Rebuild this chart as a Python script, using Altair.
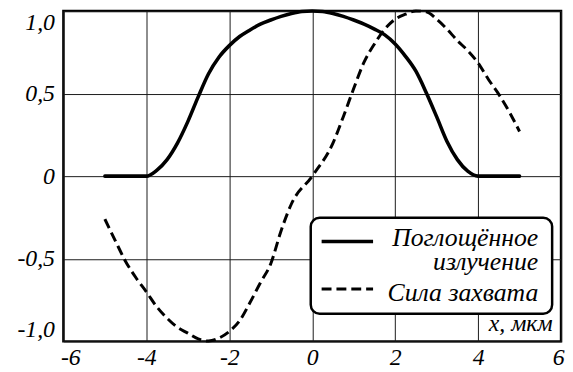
import altair as alt
import pandas as pd

# ---- data ----
x_ticks = [-6, -4, -2, 0, 2, 4, 6]
y_ticks = [-1.0, -0.5, 0.0, 0.5, 1.0]

absorbed_x = [-5, -4.5, -4, -3.75, -3.5, -3.25, -3, -2.75, -2.5, -2.25, -2, -1.75,
              -1.5, -1.25, -1, -0.75, -0.5, -0.25, 0, 0.25, 0.5, 0.75, 1, 1.25,
              1.5, 1.75, 2, 2.25, 2.5, 2.75, 3, 3.25, 3.5, 3.75, 4, 4.5, 5]
absorbed_y = [0, 0, 0, 0.035, 0.10, 0.20, 0.33, 0.48, 0.62, 0.72, 0.79, 0.845,
              0.885, 0.92, 0.945, 0.967, 0.985, 0.997, 1.0, 0.997, 0.985, 0.967, 0.945, 0.92,
              0.89, 0.855, 0.80, 0.725, 0.635, 0.505, 0.36, 0.21, 0.10, 0.03, 0, 0, 0]

force_x = [-5, -4.75, -4.5, -4.25, -4, -3.75, -3.5, -3.25, -3, -2.75, -2.5, -2.25,
           -2, -1.75, -1.5, -1.25, -1, -0.75, -0.5, 0, 0.5, 0.75, 1, 1.25,
           1.5, 1.75, 2, 2.25, 2.5, 2.75, 3, 3.25, 3.5, 3.75, 4, 4.25, 4.5, 4.75, 5]
force_y = [-0.26, -0.39, -0.516, -0.615, -0.70, -0.79, -0.86, -0.915, -0.95, -0.985, -0.998, -0.98,
           -0.94, -0.875, -0.765, -0.645, -0.53, -0.33, -0.167, 0.0, 0.20, 0.36, 0.53, 0.69,
           0.80, 0.89, 0.95, 0.98, 1.0, 0.995, 0.95, 0.89, 0.82, 0.76, 0.685, 0.585, 0.495, 0.39, 0.27]

legend_line1 = "Поглощённое"
legend_line2 = "излучение"
legend_force = "Сила захвата"
x_title = "x, мкм"

FONT = "Liberation Serif"
FS = 24
LEG_FS = 26

absorbed = pd.DataFrame({"x": absorbed_x, "y": absorbed_y})
force = pd.DataFrame({"x": force_x, "y": force_y})
one = pd.DataFrame({"k": [0]})

xscale = alt.Scale(domain=[-6, 6], nice=False, zero=False)
yscale = alt.Scale(domain=[-1, 1], nice=False, zero=False)

common = dict(
    ticks=False, domain=False, grid=True, gridColor="#1a1a1a", gridWidth=1, gridOpacity=1,
    labelFont=FONT, labelFontStyle="italic", labelFontSize=FS, labelColor="black",
    labelFontWeight="normal",
)

xaxis = alt.Axis(
    values=x_ticks, labelExpr="'' + datum.value",
    labelFlush=True, labelFlushOffset=3, labelPadding=23, labelBaseline="alphabetic",
    title=x_title, titleX=494, titleY=-11, titleAlign="right",
    titleBaseline="alphabetic", titleFont=FONT, titleFontStyle="italic",
    titleFontWeight="normal", titleFontSize=FS, titleColor="black",
    **common,
)
yaxis = alt.Axis(
    values=y_ticks, labelFlush=True, labelPadding=9,
    labelExpr="datum.value == 0 ? '0' : (datum.value < 0 ? '-' : '') + replace(format(abs(datum.value), '.1f'), '.', ',')",
    title=None,
    **common,
)

absorbed_line = alt.Chart(absorbed).mark_line(
    color="black", strokeWidth=3.6, interpolate="monotone", strokeCap="round"
).encode(
    x=alt.X("x:Q", scale=xscale, axis=xaxis),
    y=alt.Y("y:Q", scale=yscale, axis=yaxis),
)

force_line = alt.Chart(force).mark_line(
    color="black", strokeWidth=3, interpolate="monotone", strokeDash=[10, 5]
).encode(
    x=alt.X("x:Q", scale=xscale),
    y=alt.Y("y:Q", scale=yscale),
)

legend_box = alt.Chart(one).mark_rect(
    fill="white", stroke="black", strokeWidth=2.5, cornerRadius=9
).encode(
    x=alt.value(250), x2=alt.value(494), y=alt.value(209), y2=alt.value(306)
)

legend_solid = alt.Chart(one).mark_rule(color="black", strokeWidth=3.6).encode(
    x=alt.value(261), x2=alt.value(313), y=alt.value(233)
)
legend_dash = alt.Chart(one).mark_rule(color="black", strokeWidth=3, strokeDash=[10, 5]).encode(
    x=alt.value(261), x2=alt.value(313), y=alt.value(281)
)


def legend_text(txt, y):
    return alt.Chart(one).mark_text(
        align="right", baseline="alphabetic", font=FONT, fontStyle="italic",
        fontSize=LEG_FS, color="black"
    ).encode(x=alt.value(480), y=alt.value(y), text=alt.value(txt))


chart = alt.layer(
    absorbed_line, force_line, legend_box, legend_solid, legend_dash,
    legend_text(legend_line1, 238), legend_text(legend_line2, 262),
    legend_text(legend_force, 293),
).properties(
    width=503, height=334,
    autosize=alt.AutoSizeParams(type="none"),
    padding={"left": 56, "top": 1, "right": 4, "bottom": 30},
).configure_view(
    stroke="black", strokeWidth=2.5
)

chart.save("out.html", embed_options={"renderer": "svg", "actions": False})
